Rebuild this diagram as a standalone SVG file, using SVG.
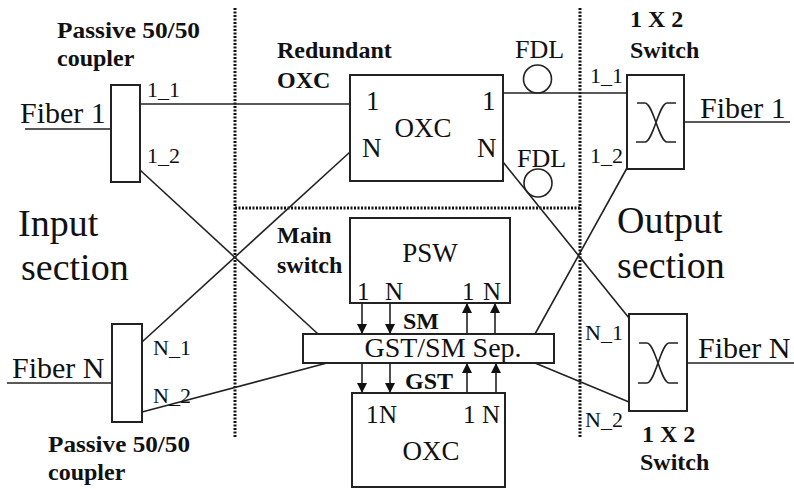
<svg xmlns="http://www.w3.org/2000/svg" width="794" height="489" viewBox="0 0 794 489">
<style>
.box{fill:#fff;stroke:#222;stroke-width:2}
.ln{fill:none;stroke:#222;stroke-width:1.6}
.dot{fill:none;stroke:#111;stroke-width:3;stroke-dasharray:2 1.5}
.t{font-family:"Liberation Serif","Times New Roman",serif;fill:#111}
.b{font-family:"Liberation Serif","Times New Roman",serif;font-weight:bold;fill:#111;font-size:24px}
.lbl{font-size:22px}
.fib{font-size:30px}
.sec{font-size:38px}
.arr{fill:none;stroke:#222;stroke-width:1.6;marker-end:url(#ah)}
</style>
<defs>
<marker id="ah" markerUnits="userSpaceOnUse" markerWidth="10" markerHeight="10" refX="10" refY="5" orient="auto" viewBox="0 0 10 10">
<path d="M0,0 L10,5 L0,10 z" fill="#111"/>
</marker>
</defs>
<rect width="794" height="489" fill="#fff"/>

<g id="dividers">
<line class="dot" x1="235" y1="8" x2="235" y2="437"/>
<line class="dot" x1="580" y1="8" x2="580" y2="437"/>
<line class="dot" x1="235" y1="208" x2="580" y2="208"/>
</g>

<g id="connectors">
<line class="ln" x1="25" y1="129" x2="111" y2="129"/>
<line class="ln" x1="7" y1="383" x2="112" y2="383"/>
<line class="ln" x1="140" y1="104" x2="350" y2="104"/>
<line class="ln" x1="140" y1="170" x2="318" y2="334"/>
<line class="ln" x1="142" y1="342" x2="350" y2="152"/>
<line class="ln" x1="142" y1="412" x2="327" y2="363"/>
<line class="ln" x1="503" y1="93" x2="627" y2="93"/>
<line class="ln" x1="503" y1="162" x2="629" y2="318"/>
<line class="ln" x1="627" y1="168" x2="535" y2="334"/>
<line class="ln" x1="535" y1="363" x2="629" y2="402"/>
<line class="ln" x1="684" y1="122" x2="790" y2="122"/>
<line class="ln" x1="687" y1="363" x2="794" y2="363"/>
<line class="arr" x1="362" y1="303" x2="362" y2="334"/>
<line class="arr" x1="390" y1="303" x2="390" y2="334"/>
<line class="arr" x1="467" y1="334" x2="467" y2="303"/>
<line class="arr" x1="495" y1="334" x2="495" y2="303"/>
<line class="arr" x1="362" y1="363" x2="362" y2="393"/>
<line class="arr" x1="390" y1="363" x2="390" y2="393"/>
<line class="arr" x1="467" y1="393" x2="467" y2="363"/>
<line class="arr" x1="496" y1="393" x2="496" y2="363"/>
</g>

<g id="coupler1">
<rect class="box" x="111" y="85" width="29" height="97"/>
<text class="b" x="57" y="38" textLength="143" lengthAdjust="spacingAndGlyphs">Passive 50/50</text>
<text class="b" x="57" y="66">coupler</text>
<text class="t fib" x="20" y="123">Fiber 1</text>
<text class="t lbl" x="147" y="97">1_1</text>
<text class="t lbl" x="147" y="163">1_2</text>
</g>

<g id="couplerN">
<rect class="box" x="112" y="324" width="30" height="98"/>
<text class="b" x="48" y="452" textLength="142" lengthAdjust="spacingAndGlyphs">Passive 50/50</text>
<text class="b" x="48" y="480">coupler</text>
<text class="t fib" x="12" y="378">Fiber N</text>
<text class="t lbl" x="153" y="355">N_1</text>
<text class="t lbl" x="153" y="403">N_2</text>
</g>

<g id="input-label">
<text class="t sec" x="18" y="236">Input</text>
<text class="t sec" x="21" y="280">section</text>
</g>

<g id="output-label">
<text class="t sec" x="617" y="233">Output</text>
<text class="t sec" x="617" y="278">section</text>
</g>

<g id="redundant-oxc">
<rect class="box" x="350" y="75" width="153" height="106"/>
<text class="b" x="277" y="58">Redundant</text>
<text class="b" x="277" y="88">OXC</text>
<text class="t" font-size="27" x="423" y="137" text-anchor="middle">OXC</text>
<text class="t" font-size="27" x="366" y="110">1</text>
<text class="t" font-size="27" x="362" y="157">N</text>
<text class="t" font-size="27" x="482" y="110">1</text>
<text class="t" font-size="27" x="477" y="157">N</text>
</g>

<g id="fdl1">
<circle cx="537.5" cy="79" r="14" fill="none" stroke="#222" stroke-width="1.6"/>
<text class="t" font-size="26" x="515" y="58">FDL</text>
</g>

<g id="fdl2">
<circle cx="538" cy="183" r="14" fill="none" stroke="#222" stroke-width="1.6"/>
<text class="t" font-size="26" x="517" y="167">FDL</text>
</g>

<g id="psw">
<rect class="box" x="350" y="218" width="160" height="85"/>
<text class="b" x="277" y="243">Main</text>
<text class="b" x="277" y="273">switch</text>
<text class="t" font-size="27" x="430" y="262" text-anchor="middle">PSW</text>
<text class="t" font-size="25" x="357" y="300">1</text>
<text class="t" font-size="25" x="385" y="300">N</text>
<text class="t" font-size="25" x="462" y="300">1</text>
<text class="t" font-size="25" x="483" y="300">N</text>
<text class="b" x="403" y="329" font-size="22">SM</text>
</g>

<g id="separator">
<rect class="box" x="303" y="334" width="251" height="29"/>
<text class="t" font-size="28" x="443" y="357" text-anchor="middle">GST/SM Sep.</text>
<text class="b" x="405" y="389">GST</text>
</g>

<g id="main-oxc">
<rect class="box" x="352" y="393" width="153" height="94"/>
<text class="t" font-size="25" x="366" y="423">1</text>
<text class="t" font-size="25" x="379" y="423">N</text>
<text class="t" font-size="25" x="463" y="423">1</text>
<text class="t" font-size="25" x="482" y="423">N</text>
<text class="t" font-size="27" x="431" y="460" text-anchor="middle">OXC</text>
</g>

<g id="switch1">
<rect class="box" x="627" y="75" width="57" height="94"/>
<path class="ln" d="M637,103 H645 C653,103 659,142 667,142 H676 M676,103 H667 C659,103 653,142 645,142 H636"/>
<text class="b" x="630" y="27">1 X 2</text>
<text class="b" x="630" y="58">Switch</text>
<text class="t fib" x="700" y="118">Fiber 1</text>
<text class="t lbl" x="590" y="83">1_1</text>
<text class="t lbl" x="590" y="163">1_2</text>
</g>

<g id="switchN">
<rect class="box" x="629" y="314" width="58" height="97"/>
<path class="ln" d="M639,343 H647 C655,343 661,383 669,383 H678 M678,343 H669 C661,343 655,383 647,383 H638"/>
<text class="b" x="642" y="442">1 X 2</text>
<text class="b" x="640" y="470">Switch</text>
<text class="t fib" x="698" y="358">Fiber N</text>
<text class="t lbl" x="585" y="340">N_1</text>
<text class="t lbl" x="585" y="427">N_2</text>
</g>
</svg>
